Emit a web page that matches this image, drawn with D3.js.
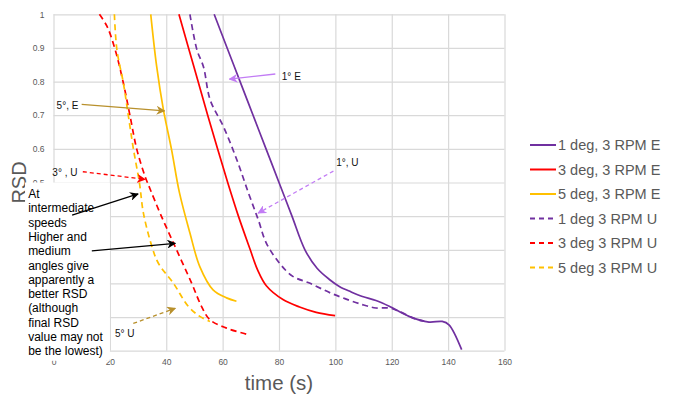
<!DOCTYPE html>
<html lang="en">
<head>
    <meta charset="UTF-8">
    <title>RSD vs time</title>
    <script src="https://d3js.org/d3.v7.min.js"></script>
    <style>
        body { margin: 0; background: #fff; font-family: "Liberation Sans", Arial, sans-serif; }
        .tick text { fill: #595959; font-size: 8.5px; }
    </style>
</head>
<body>
<svg width="675" height="403"></svg>
<script>
    // series names and values (time in s, RSD)
    const seriesNames = ["1 deg, 3 RPM E", "3 deg, 3 RPM E", "5 deg, 3 RPM E",
                         "1 deg 3 RPM U", "3 deg 3 RPM U", "5 deg 3 RPM U"];

    const deg1E = [[57,1],[61.6,0.9],[66.2,0.8],[70.8,0.7],[75.4,0.6],[80,0.5],[84.6,0.4],
                   [89.2,0.3],[93.5,0.245],[98,0.211],[101.4,0.191],[105.5,0.175],[109.6,0.161],
                   [114.4,0.149],[119.1,0.132],[126.1,0.102],[133.2,0.085],[137.9,0.087],
                   [140.3,0.077],[144.8,0.003]];
    const deg3E = [[44.5,1],[47.9,0.9],[51.3,0.8],[54.7,0.7],[58.2,0.6],[61.8,0.5],[65.6,0.4],
                   [69.8,0.3],[72.4,0.24],[75.5,0.193],[81.4,0.152],[87.3,0.13],[93.2,0.114],
                   [99.9,0.104]];
    const deg5E = [[34.5,1],[36.6,0.845],[39,0.716],[41.9,0.597],[44.7,0.469],[48.4,0.35],
                   [51.9,0.25],[56.6,0.181],[61.4,0.157],[64.9,0.147]];
    const deg1U = [[48.4,1],[50.9,0.894],[53.2,0.844],[55.6,0.745],[60.3,0.666],[65.1,0.566],
                   [69.2,0.468],[72.7,0.388],[75.5,0.32],[80.2,0.26],[84.9,0.221],[90.8,0.201],
                   [99,0.169],[109.6,0.137],[114.4,0.127],[119.1,0.127],[122.6,0.117],
                   [128.5,0.094],[131.5,0.088]];
    const deg3U = [[16.3,1],[19,0.964],[21.9,0.894],[24.8,0.795],[27.2,0.696],[29.6,0.597],
                   [32.5,0.518],[34.3,0.48],[37.8,0.409],[43.1,0.31],[49,0.201],[52.5,0.132],
                   [55.5,0.092],[61.4,0.067],[69,0.048]];
    const deg5U = [[21.6,1],[22.5,0.894],[24.8,0.795],[26.6,0.696],[28.4,0.597],[30.5,0.498],
                   [31.9,0.409],[34.9,0.31],[37.2,0.26],[42.5,0.201],[47.8,0.132],[51.9,0.102],
                   [55.5,0.087]];

    const xTicks = [0, 20, 40, 60, 80, 100, 120, 140, 160];
    const yTicks = [0, 0.1, 0.2, 0.3, 0.4, 0.5, 0.6, 0.7, 0.8, 0.9, 1];
    // labels below 0.5 sit under the note box and are not visible
    const yTickLabels = [0.5, 0.6, 0.7, 0.8, 0.9, 1];

    const noteLines = ["At", "intermediate", "speeds", "Higher and", "medium", "angles give",
                       "apparently a", "better RSD", "(although", "final RSD", "value may not",
                       "be the lowest)"];

    const colors = ["#7030a0", "#ff0000", "#ffc000", "#7030a0", "#ff0000", "#ffc000"];
    const dashed = [false, false, false, true, true, true];
    const allSeries = [deg1E, deg3E, deg5E, deg1U, deg3U, deg5U];

    const svg = d3.select("svg");
    const x = d3.scaleLinear().domain([0, 160]).range([53.5, 504.5]);
    const y = d3.scaleLinear().domain([0, 1]).range([350.7, 14.3]);

    // grid
    svg.append("g")
        .attr("transform", `translate(0,${y(0)})`)
        .call(d3.axisBottom(x).tickValues(xTicks).tickSize(-(y(0) - y(1))).tickFormat(""))
        .call(g => g.select(".domain").remove())
        .call(g => g.selectAll("line").attr("stroke", "#d9d9d9").attr("stroke-width", 1.2));
    svg.append("g")
        .attr("transform", `translate(${x(0)},0)`)
        .call(d3.axisLeft(y).tickValues(yTicks).tickSize(-(x(160) - x(0))).tickFormat(""))
        .call(g => g.select(".domain").remove())
        .call(g => g.selectAll("line").attr("stroke", "#d9d9d9").attr("stroke-width", 1.2));

    // tick labels
    svg.append("g")
        .attr("transform", `translate(0,${y(0)})`)
        .call(d3.axisBottom(x).tickValues(xTicks).tickSize(0).tickPadding(8))
        .call(g => g.select(".domain").remove());
    svg.append("g")
        .attr("transform", `translate(${x(0)},0)`)
        .call(d3.axisLeft(y).tickValues(yTickLabels).tickSize(0).tickPadding(9).tickFormat(d => d))
        .call(g => g.select(".domain").remove());

    // axis titles
    svg.append("text")
        .attr("x", 279).attr("y", 390)
        .attr("text-anchor", "middle")
        .attr("fill", "#595959").attr("font-size", 20.5)
        .text("time (s)");
    svg.append("text")
        .attr("transform", `translate(26,${y(0.5)}) rotate(-90)`)
        .attr("text-anchor", "middle")
        .attr("fill", "#595959").attr("font-size", 20)
        .text("RSD");

    // series lines
    const line = d3.line().x(d => x(d[0])).y(d => y(d[1])).curve(d3.curveCatmullRom.alpha(0.5));
    allSeries.forEach((s, i) => {
        svg.append("path")
            .datum(s)
            .attr("fill", "none")
            .attr("stroke", colors[i])
            .attr("stroke-width", 1.7)
            .attr("stroke-dasharray", dashed[i] ? "6,4" : null)
            .attr("d", line);
    });

    // legend
    const legend = svg.append("g").selectAll("g")
        .data(seriesNames)
        .join("g")
        .attr("transform", (d, i) => `translate(530,${145 + i * 24.5})`);
    legend.append("line")
        .attr("x1", 0).attr("x2", 26)
        .attr("stroke", (d, i) => colors[i])
        .attr("stroke-width", 2)
        .attr("stroke-dasharray", (d, i) => dashed[i] ? "5,4" : null);
    legend.append("text")
        .attr("x", 28).attr("dy", "0.35em")
        .attr("fill", "#595959").attr("font-size", 14.5)
        .text(d => d);

    // white note box over the lower-left corner
    svg.append("rect")
        .attr("x", x(-10.1)).attr("y", y(0.5))
        .attr("width", x(20) - x(-10.1)).attr("height", y(-0.03) - y(0.5))
        .attr("fill", "#fff");
    svg.append("g").selectAll("text")
        .data(noteLines)
        .join("text")
        .attr("x", x(-9)).attr("y", (d, i) => 198 + i * 14.3)
        .attr("font-size", 12).attr("fill", "#000")
        .text(d => d);

    // arrow markers
    const defs = svg.append("defs");
    const markerColors = { purple: "#c27cf5", gold: "#b8902c", red: "#ff0000", black: "#000" };
    Object.entries(markerColors).forEach(([k, c]) => {
        defs.append("marker")
            .attr("id", "arr-" + k)
            .attr("viewBox", "0 0 10 10")
            .attr("refX", 9).attr("refY", 5)
            .attr("markerWidth", 9).attr("markerHeight", 9)
            .attr("markerUnits", "userSpaceOnUse")
            .attr("orient", "auto")
            .append("path").attr("d", "M0,0 L10,5 L0,10 L3,5 Z").attr("fill", c);
    });

    // annotations in data coordinates
    const arrows = [
        { from: [78.7, 0.8225], to: [62.4, 0.807], c: "purple", dash: null },
        { from: [99.3, 0.534], to: [72.6, 0.409], c: "purple", dash: "4,3" },
        { from: [10, 0.732], to: [39.4, 0.713], c: "gold", dash: null },
        { from: [10.4, 0.532], to: [32.5, 0.5095], c: "red", dash: "4,3" },
        { from: [6.6, 0.403], to: [30, 0.466], c: "black", dash: null },
        { from: [13.6, 0.297], to: [43.2, 0.319], c: "black", dash: null },
        { from: [28.3, 0.081], to: [43.2, 0.126], c: "gold", dash: "4,3" }
    ];
    svg.append("g").selectAll("line")
        .data(arrows)
        .join("line")
        .attr("x1", d => x(d.from[0])).attr("y1", d => y(d.from[1]))
        .attr("x2", d => x(d.to[0])).attr("y2", d => y(d.to[1]))
        .attr("stroke", d => markerColors[d.c])
        .attr("stroke-width", 1.3)
        .attr("stroke-dasharray", d => d.dash)
        .attr("marker-end", d => `url(#arr-${d.c})`);

    const labels = [
        { t: "1° E", at: [81, 0.806] },
        { t: "1°, U", at: [100.3, 0.548] },
        { t: "5°, E", at: [1.1, 0.718] },
        { t: "3° , U", at: [-0.4, 0.518] },
        { t: "5° U", at: [21.8, 0.041] }
    ];
    svg.append("g").selectAll("text")
        .data(labels)
        .join("text")
        .attr("x", d => x(d.at[0])).attr("y", d => y(d.at[1]))
        .attr("font-size", 10).attr("fill", "#111")
        .text(d => d.t);
</script>
</body>
</html>
